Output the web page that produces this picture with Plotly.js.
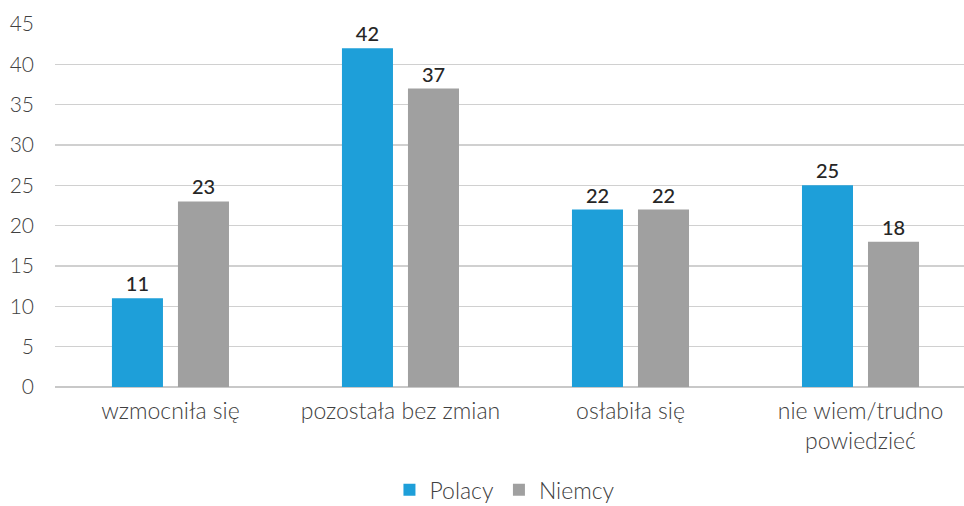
<!DOCTYPE html>
<html><head><meta charset="utf-8">
<script src="https://cdn.plot.ly/plotly-3.0.1.min.js"></script>
<style>html,body{margin:0;padding:0;background:#fff}</style>
</head><body><div id="chart" style="width:964px;height:506px"></div>
<script>
const categories = ["wzmocniła się", "pozostała bez zmian", "osłabiła się", "nie wiem/trudno<br>powiedzieć"];
const polacy = [11, 42, 22, 25];
const niemcy = [23, 37, 22, 18];
const tickVals = [0, 5, 10, 15, 20, 25, 30, 35, 40, 45];

const FONT = "Lato, 'Open Sans', sans-serif";
const labelFont = {family: FONT, size: 20, color: "#262626", weight: 500};
const xFont = {family: FONT, size: 23, color: "#404040", weight: 300};
const yFont = {family: FONT, size: 21, color: "#404040", weight: 300};
const traces = [
  {type: "bar", name: "Polacy", x: categories, y: polacy, marker: {color: "#1E9FD9"},
   text: polacy.map(String), textposition: "outside", textfont: labelFont, cliponaxis: false, hoverinfo: "none"},
  {type: "bar", name: "Niemcy", x: categories, y: niemcy, marker: {color: "#A0A0A0"},
   text: niemcy.map(String), textposition: "outside", textfont: labelFont, cliponaxis: false, hoverinfo: "none"}
];
const layout = {
  width: 964, height: 506,
  margin: {l: 55, r: 0, t: 24, b: 119, autoexpand: false},
  paper_bgcolor: "#fff", plot_bgcolor: "#fff",
  font: {family: FONT, color: "#404040", size: 20},
  barmode: "group", bargap: 0.426, bargroupgap: 0.227,
  xaxis: {range: [-0.502, 3.45], tickfont: xFont, showline: false, ticks: "", ticklabelstandoff: 8, automargin: false},
  yaxis: {range: [0, 45], tickvals: tickVals, ticktext: tickVals.map(String), showgrid: true,
          gridcolor: "#d0d0d0", gridwidth: 1.5, zeroline: true, zerolinecolor: "#c8c8c8", zerolinewidth: 1.5,
          ticks: "", ticklabelstandoff: 20, tickfont: yFont, automargin: false},
  legend: {orientation: "h", x: 0.495, xanchor: "center", y: -0.283, yanchor: "middle",
           font: xFont, itemwidth: 30, traceorder: "normal"},
  showlegend: true
};
Plotly.newPlot("chart", traces, layout, {displayModeBar: false, staticPlot: true});
</script></body></html>
